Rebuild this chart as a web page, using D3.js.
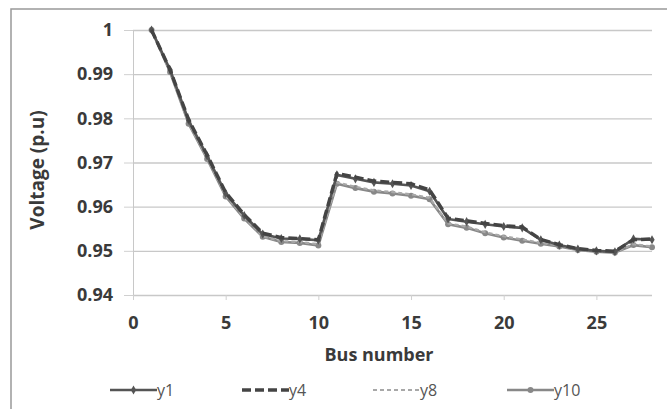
<!DOCTYPE html>
<html>
<head>
<meta charset="utf-8">
<script src="https://cdn.jsdelivr.net/npm/d3@7"></script>
<style>
  body { margin: 0; background: #fff; }
  svg { display: block; }
</style>
</head>
<body>
<svg width="667" height="409"></svg>
<script>
// data
const buses = d3.range(1, 29)
const y1 = [1, 0.991, 0.9795, 0.9715, 0.963, 0.958, 0.9538, 0.9528, 0.9527, 0.9524,
  0.9672, 0.9663, 0.9655, 0.9652, 0.9648, 0.9635, 0.9572, 0.9566, 0.956, 0.9555,
  0.9552, 0.9525, 0.9513, 0.9504, 0.95, 0.9498, 0.9527, 0.9525]
const y4 = [1, 0.991, 0.9797, 0.9717, 0.9632, 0.9582, 0.954, 0.953, 0.9528, 0.9525,
  0.9675, 0.9667, 0.9658, 0.9655, 0.9652, 0.9638, 0.9574, 0.9568, 0.9562, 0.9557,
  0.9554, 0.9526, 0.9514, 0.9505, 0.9501, 0.9499, 0.9525, 0.9527]
const y8 = [1, 0.9905, 0.979, 0.971, 0.9625, 0.9575, 0.9533, 0.9522, 0.952, 0.9515,
  0.9655, 0.9645, 0.9637, 0.9633, 0.9628, 0.962, 0.9562, 0.9555, 0.9542, 0.9533,
  0.9526, 0.9518, 0.9512, 0.9503, 0.9499, 0.9497, 0.9515, 0.951]
const y10 = [1, 0.9905, 0.9788, 0.9708, 0.9623, 0.9573, 0.9532, 0.952, 0.9518, 0.9512,
  0.9652, 0.9642, 0.9634, 0.963, 0.9625, 0.9617, 0.956, 0.9552, 0.954, 0.953,
  0.9523, 0.9516, 0.951, 0.9502, 0.9498, 0.9496, 0.9513, 0.9508]
const seriesNames = ["y1", "y4", "y8", "y10"]
const yTicks = [0.94, 0.95, 0.96, 0.97, 0.98, 0.99, 1]
const xTicks = [0, 5, 10, 15, 20, 25]

const series = [
  {name: "y1", values: y1, color: "#555", width: 2.6, dash: null, marker: "diamond"},
  {name: "y4", values: y4, color: "#444", width: 3.4, dash: "9,4", marker: null},
  {name: "y8", values: y8, color: "#a8a8a8", width: 2.2, dash: "4,3", marker: null},
  {name: "y10", values: y10, color: "#888", width: 2.6, dash: null, marker: "circle"}
]

const font = "'Open Sans', sans-serif"
const svg = d3.select("svg")

// chart frame
svg.append("rect")
  .attr("x", 11).attr("y", 9)
  .attr("width", 700).attr("height", 420)
  .attr("fill", "none")
  .attr("stroke", "#999")
  .attr("stroke-width", 1.5)

const xScale = d3.scaleLinear().domain([0, 28]).range([133, 652])
const yScale = d3.scaleLinear().domain([0.94, 1]).range([295, 30])

// y axis with gridlines
const yAxis = d3.axisLeft(yScale)
  .tickValues(yTicks)
  .tickFormat(d => d === 1 ? "1" : d.toFixed(2))
  .tickSize(-(652 - 133))
  .tickPadding(20)

const gy = svg.append("g")
  .attr("transform", "translate(133,0)")
  .call(yAxis)
gy.select(".domain").attr("stroke", "#c8c8c8")
gy.selectAll(".tick line").attr("stroke", "#c8c8c8").attr("stroke-width", 1.3)
gy.selectAll(".tick")
  .append("line")
  .attr("x1", -9).attr("x2", 0)
  .attr("stroke", "#d0d0d0")
gy.selectAll(".tick text")
  .attr("font-family", font)
  .attr("font-weight", "bold")
  .attr("font-size", 18)
  .attr("fill", "#3a3a3a")

// x axis
const xAxis = d3.axisBottom(xScale)
  .tickValues(xTicks)
  .tickSize(5)
  .tickPadding(16)
const gx = svg.append("g")
  .attr("transform", "translate(0,295)")
  .call(xAxis)
gx.select(".domain").remove()
gx.selectAll(".tick line").attr("stroke", "#d0d0d0")
gx.selectAll(".tick text")
  .attr("font-family", font)
  .attr("font-weight", "bold")
  .attr("font-size", 18)
  .attr("fill", "#3a3a3a")

// axis titles
svg.append("text")
  .attr("x", 379).attr("y", 361)
  .attr("text-anchor", "middle")
  .attr("font-family", font)
  .attr("font-weight", "bold")
  .attr("font-size", 18)
  .attr("fill", "#3a3a3a")
  .text("Bus number")

svg.append("text")
  .attr("transform", "translate(44,170) rotate(-90)")
  .attr("text-anchor", "middle")
  .attr("font-family", font)
  .attr("font-weight", "bold")
  .attr("font-size", 19)
  .attr("fill", "#3a3a3a")
  .text("Voltage (p.u)")

// lines
const line = d3.line()
  .x((d, i) => xScale(buses[i]))
  .y(d => yScale(d))

const drawOrder = [series[3], series[2], series[0], series[1]]
drawOrder.forEach(s => {
  svg.append("path")
    .datum(s.values)
    .attr("fill", "none")
    .attr("stroke", s.color)
    .attr("stroke-width", s.width)
    .attr("stroke-dasharray", s.dash)
    .attr("stroke-linejoin", "round")
    .attr("d", line)

  if (s.marker === "circle") {
    svg.append("g").selectAll("circle")
      .data(s.values)
      .join("circle")
      .attr("cx", (d, i) => xScale(buses[i]))
      .attr("cy", d => yScale(d))
      .attr("r", 3)
      .attr("fill", s.color)
  } else if (s.marker === "diamond") {
    svg.append("g").selectAll("path")
      .data(s.values)
      .join("path")
      .attr("d", d3.symbol(d3.symbolDiamond, 24))
      .attr("transform", (d, i) => `translate(${xScale(buses[i])},${yScale(d)})`)
      .attr("fill", s.color)
  }
})

// legend
const legendX = [110, 242, 373, 507]
const legend = svg.append("g")
series.forEach((s, i) => {
  const g = legend.append("g").attr("transform", `translate(${legendX[i]},390)`)
  g.append("line")
    .attr("x1", 0).attr("x2", 47)
    .attr("stroke", s.color)
    .attr("stroke-width", s.width)
    .attr("stroke-dasharray", s.dash)
  if (s.marker === "circle") {
    g.append("circle").attr("cx", 23.5).attr("r", 3).attr("fill", s.color)
  } else if (s.marker === "diamond") {
    g.append("path")
      .attr("d", d3.symbol(d3.symbolDiamond, 24))
      .attr("transform", "translate(23.5,0)")
      .attr("fill", s.color)
  }
  g.append("text")
    .attr("x", 47).attr("y", 6)
    .attr("font-family", font)
    .attr("font-size", 16)
    .attr("fill", "#555")
    .text(seriesNames[i])
})
</script>
</body>
</html>
